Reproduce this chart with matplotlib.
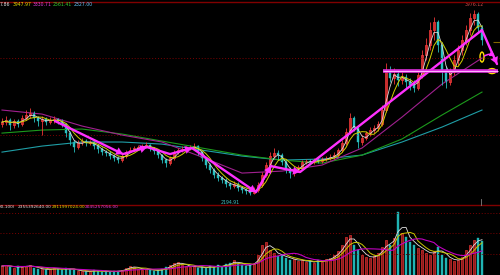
import matplotlib
matplotlib.use("Agg")
import matplotlib.pyplot as plt
import numpy as np
import pandas as pd
from matplotlib.patches import Ellipse
from matplotlib.lines import Line2D

# ---------------- data (index points) ----------------
opens = [2878, 2897, 2916, 2868, 2907, 2878, 2936, 2965, 2984, 2936,
         2907, 2926, 2897, 2916, 2926, 2907, 2878, 2791, 2705, 2656,
         2705, 2714, 2695, 2705, 2666, 2637, 2608, 2599, 2570, 2550,
         2531, 2570, 2608, 2627, 2647, 2656, 2666, 2676, 2647, 2618,
         2579, 2531, 2502, 2550, 2608, 2627, 2637, 2647, 2656, 2666,
         2608, 2550, 2483, 2435, 2387, 2358, 2339, 2300, 2281, 2300,
         2262, 2242, 2233, 2213, 2242, 2291, 2387, 2483, 2570, 2599,
         2579, 2512, 2435, 2406, 2435, 2464, 2512, 2522, 2512, 2531,
         2522, 2541, 2550, 2560, 2579, 2627, 2695, 2801, 2936, 2839,
         2705, 2743, 2791, 2820, 2839, 2878, 3013, 3379, 3321, 3359,
         3302, 3330, 3282, 3253, 3225, 3350, 3542, 3639, 3783, 3860,
         3639, 3398, 3282, 3379, 3494, 3591, 3687, 3783, 3899, 3937,
         3802]
highs = [2936, 2955, 2936, 2926, 2926, 2965, 3013, 3032, 3003, 2955,
         2955, 2945, 2945, 2955, 2936, 2926, 2888, 2811, 2724, 2724,
         2743, 2734, 2724, 2714, 2685, 2656, 2627, 2618, 2589, 2570,
         2589, 2627, 2656, 2666, 2676, 2685, 2705, 2685, 2656, 2627,
         2589, 2550, 2570, 2627, 2647, 2666, 2666, 2676, 2695, 2676,
         2618, 2560, 2502, 2454, 2416, 2377, 2358, 2319, 2329, 2319,
         2281, 2262, 2252, 2271, 2319, 2416, 2512, 2608, 2647, 2627,
         2599, 2531, 2464, 2464, 2483, 2531, 2541, 2541, 2550, 2550,
         2560, 2570, 2589, 2608, 2647, 2724, 2839, 2984, 2955, 2859,
         2772, 2811, 2849, 2868, 2907, 3061, 3465, 3436, 3417, 3398,
         3379, 3359, 3321, 3302, 3379, 3591, 3706, 3860, 3908, 3879,
         3668, 3436, 3417, 3542, 3639, 3735, 3831, 3947, 3976.12, 3956,
         3831]
lows = [2849, 2868, 2820, 2839, 2849, 2859, 2916, 2936, 2897, 2859,
        2772, 2868, 2878, 2888, 2878, 2849, 2753, 2676, 2608, 2637,
        2676, 2666, 2676, 2637, 2599, 2579, 2570, 2541, 2522, 2502,
        2512, 2550, 2599, 2618, 2627, 2637, 2647, 2618, 2589, 2550,
        2502, 2464, 2483, 2531, 2589, 2608, 2618, 2627, 2637, 2579,
        2522, 2454, 2406, 2358, 2329, 2310, 2271, 2252, 2262, 2233,
        2213, 2204, 2194.91, 2204, 2223, 2271, 2367, 2464, 2550, 2531,
        2483, 2406, 2358, 2377, 2416, 2445, 2493, 2483, 2493, 2502,
        2502, 2522, 2531, 2541, 2560, 2608, 2676, 2782, 2811, 2647,
        2676, 2724, 2762, 2791, 2811, 2859, 2993, 3282, 3263, 3244,
        3263, 3225, 3205, 3186, 3205, 3321, 3494, 3591, 3687, 3571,
        3253, 3225, 3253, 3350, 3446, 3542, 3639, 3735, 3831, 3754,
        3639]
closes = [2897, 2916, 2868, 2907, 2878, 2936, 2965, 2984, 2936, 2907,
          2926, 2897, 2916, 2926, 2907, 2878, 2791, 2724, 2656, 2705,
          2714, 2695, 2705, 2666, 2637, 2608, 2599, 2570, 2550, 2531,
          2570, 2608, 2627, 2647, 2656, 2666, 2676, 2647, 2618, 2579,
          2531, 2502, 2550, 2608, 2627, 2637, 2647, 2656, 2666, 2608,
          2550, 2483, 2435, 2387, 2358, 2339, 2300, 2281, 2300, 2262,
          2242, 2233, 2213, 2242, 2291, 2387, 2483, 2570, 2599, 2579,
          2512, 2435, 2406, 2435, 2464, 2512, 2522, 2512, 2531, 2522,
          2541, 2550, 2560, 2579, 2627, 2695, 2801, 2936, 2839, 2705,
          2743, 2791, 2820, 2839, 2878, 3013, 3379, 3321, 3359, 3302,
          3330, 3282, 3253, 3225, 3350, 3542, 3639, 3783, 3860, 3639,
          3398, 3282, 3379, 3494, 3591, 3687, 3783, 3899, 3937, 3802,
          3687]
# volume in units of 1e8
volumes_e8 = [8.6, 9.6, 7.7, 6.7, 8.6, 7.7, 8.6, 9.6, 6.7, 5.8,
              5.8, 4.8, 5.8, 6.7, 5.8, 4.8, 6.7, 5.8, 4.8, 3.8,
              3.8, 2.9, 3.8, 4.8, 3.8, 2.9, 3.8, 2.9, 3.8, 3.8,
              4.8, 6.7, 8.6, 7.7, 5.8, 4.8, 5.8, 4.8, 3.8, 4.8,
              5.8, 7.7, 9.6, 11.5, 12.5, 9.6, 8.6, 7.7, 8.6, 6.7,
              7.7, 6.7, 8.6, 7.7, 9.6, 7.7, 10.6, 11.5, 14.4, 10.6,
              9.6, 8.6, 10.6, 11.5, 19.2, 28.8, 31.7, 24.0, 21.1, 18.2,
              19.2, 16.3, 14.4, 15.4, 13.4, 14.4, 12.5, 13.4, 11.5, 14.4,
              12.5, 15.4, 16.3, 19.2, 23.0, 28.8, 36.5, 38.4, 28.8, 24.0,
              19.2, 17.3, 16.3, 18.2, 21.1, 26.9, 33.6, 28.8, 35.5, 60.5,
              40.3, 36.5, 31.7, 28.8, 25.9, 24.0, 21.1, 19.2, 23.0, 26.9,
              19.2, 16.3, 15.4, 13.4, 14.4, 17.3, 24.0, 28.8, 33.6, 35.5,
              32.6]

# long moving averages (every 10 bars)
ma_idx = [0, 10, 20, 30, 40, 50, 60, 70, 80, 90, 100, 110, 120]
ma_purple = [3013, 2974, 2859, 2772, 2705, 2560, 2406, 2425, 2483, 2647, 2945, 3263, 3514]
ma_green = [2791, 2820, 2830, 2782, 2714, 2647, 2579, 2531, 2502, 2579, 2734, 2965, 3186]
ma_cyan = [2608, 2666, 2705, 2705, 2685, 2627, 2570, 2531, 2541, 2579, 2705, 2849, 3013]

# hand-drawn trend annotations (bar index, price)
trend_x = [13.25, 30.25, 36.25, 42, 47.5, 63.5, 67.25, 74.5, 120, 123.75]
trend_p = [2907, 2589, 2656, 2589, 2647, 2223, 2473, 2416, 3783, 3456]
trend_arrow = [True, True, False, True, True, True, True, False, True]
hline_p = 3388
hline_x = [95.25, 124.0]
grid_main = [3514, 2772]
grid_vol_e8 = [20, 40, 60]

header_main = ["7.86", "3947.97", "3330.71", "2561.41", "2327.00"]
header_vol = ["(0-100)", "2355392640.00", "2911997024.00", "2045257056.00"]

# ---------------- drawing ----------------
RED = "#f03838"
CYAN = "#28c0c0"
fig = plt.figure(figsize=(5, 2.75), dpi=100, facecolor="black")
ax = fig.add_axes([0, 75 / 275, 1, 197 / 275])
vax = fig.add_axes([0, 0, 1, 70 / 275])
for a in (ax, vax):
    a.set_facecolor("black")
    for s in a.spines.values():
        s.set_visible(False)
    a.set_xticks([])
    a.set_yticks([])
    a.set_xlim(-0.5, 124.5)
ax.set_ylim(2146.8, 4043.5)
vax.set_ylim(0, 67.2)

idx = np.arange(len(closes))
o = np.array(opens, float); c = np.array(closes, float)
h = np.array(highs, float); l = np.array(lows, float)
up = c >= o

for g in grid_main:
    ax.axhline(g, color="#7a0000", lw=0.7, ls=(0, (1, 2)))
for g in grid_vol_e8:
    vax.axhline(g, color="#7a0000", lw=0.7, ls=(0, (1, 2)))

# moving averages
ax.plot(ma_idx, ma_cyan, color="#1f9ea6", lw=0.8)
ax.plot(ma_idx, ma_green, color="#1c9a1c", lw=0.8)
ax.plot(ma_idx, ma_purple, color="#a0208f", lw=0.8)

# candles
ax.vlines(idx[up], l[up], h[up], color=RED, lw=0.6)
ax.vlines(idx[~up], l[~up], h[~up], color=CYAN, lw=0.6)
body_bot = np.minimum(o, c)
body_h = np.maximum(np.abs(c - o), 4)
ax.bar(idx[up], body_h[up], bottom=body_bot[up], width=0.6,
       facecolor="black", edgecolor=RED, linewidth=0.6)
ax.bar(idx[~up], body_h[~up], bottom=body_bot[~up], width=0.6,
       facecolor=CYAN, edgecolor=CYAN, linewidth=0.3)

cs = pd.Series(c)
ax.plot(idx, cs.rolling(3, min_periods=1).mean(), color="#d8d8d8", lw=0.6)
ax.plot(idx, cs.rolling(5, min_periods=1).mean(), color="#d0d000", lw=0.7)

# trend annotations
TC = "#ff30ff"
ax.plot(trend_x, trend_p, color=TC, lw=1.7, solid_capstyle="round",
        solid_joinstyle="round")
for k, flag in enumerate(trend_arrow):
    if flag:
        ax.annotate("", xy=(trend_x[k + 1], trend_p[k + 1]),
                    xytext=(trend_x[k], trend_p[k]),
                    arrowprops=dict(arrowstyle="-|>,head_length=0.6,head_width=0.35",
                                    color=TC, lw=0.1, mutation_scale=8,
                                    shrinkA=0, shrinkB=0),
                    annotation_clip=False)
ax.hlines(hline_p, hline_x[0], hline_x[1], color="#e030e0", lw=2.6)
ax.hlines(hline_p, hline_x[0], hline_x[1], color="#ffb8ff", lw=0.7)
ax.add_patch(Ellipse((120, 3523), 1.0, 96, fill=False, edgecolor="#ffe000", lw=1.0))
ax.add_patch(Ellipse((122.5, hline_p), 2.0, 48, fill=False, edgecolor="#ffe000", lw=1.0))
ax.annotate("", xy=(123.2, 3533), xytext=(120.6, 3533),
            arrowprops=dict(arrowstyle="-|>,head_length=0.4,head_width=0.25",
                            color=TC, lw=1.1, mutation_scale=6,
                            connectionstyle="arc3,rad=-0.3", shrinkA=0, shrinkB=0),
            annotation_clip=False)
ax.hlines(3668, 122.75, 124.5, color="#806800", lw=0.8)

# extreme labels
lo_i = int(np.argmin(l)); hi_i = int(np.argmax(h))
ax.annotate(f"{l[lo_i]:.2f}", xy=(lo_i, l[lo_i]), xytext=(-20, -7.5),
            textcoords="offset pixels", ha="center", va="center",
            color="#40c0c0", fontsize=3.3, annotation_clip=False)
ax.annotate(f"{h[hi_i]:.2f}", xy=(hi_i, h[hi_i]), xytext=(0, 5),
            textcoords="offset pixels", ha="center", va="center",
            color="#d05050", fontsize=3.3, annotation_clip=False)

# volume
v = np.array(volumes_e8, float)
vax.bar(idx[up], v[up], width=0.6, facecolor="#8a1c1c", edgecolor="#e03030", linewidth=0.5)
vax.bar(idx[~up], v[~up], width=0.6, facecolor="#20b4b4", edgecolor="#20b4b4", linewidth=0.3)
vs = pd.Series(v)
vax.plot(idx, vs.rolling(3, min_periods=1).mean(), color="#e0e0e0", lw=0.6)
vax.plot(idx, vs.rolling(5, min_periods=1).mean(), color="#c8c800", lw=0.7)
vax.plot(idx, vs.rolling(10, min_periods=1).mean(), color="#c000c0", lw=0.8)

# frame lines
fig.add_artist(Line2D([0, 1], [1 - 2 / 275] * 2, color="#800000", lw=1.0,
                      transform=fig.transFigure))
fig.add_artist(Line2D([0, 1], [1 - 204.5 / 275] * 2, color="#800000", lw=1.0,
                      transform=fig.transFigure))
fig.add_artist(Line2D([481 / 500] * 2, [1 - 199 / 275, 1 - 205 / 275], color="#808080",
                      lw=0.6, transform=fig.transFigure))

# headers
hx = [0, 13, 33, 53, 74]
hc = ["#e0e0e0", "#e0e000", "#e040e0", "#30d030", "#60c8ff"]
for t, x, col in zip(header_main, hx, hc):
    fig.text(x / 500, 1 - 4.8 / 275, t, color=col, fontsize=3.3, ha="left", va="center")
vx = [0, 18, 52, 85]
vc = ["#e0e0e0", "#e0e0e0", "#e0e000", "#e040e0"]
for t, x, col in zip(header_vol, vx, vc):
    fig.text(x / 500, 1 - 207.5 / 275, t, color=col, fontsize=3.1, ha="left", va="center")

fig.savefig("out.png", dpi=100, facecolor="black")
